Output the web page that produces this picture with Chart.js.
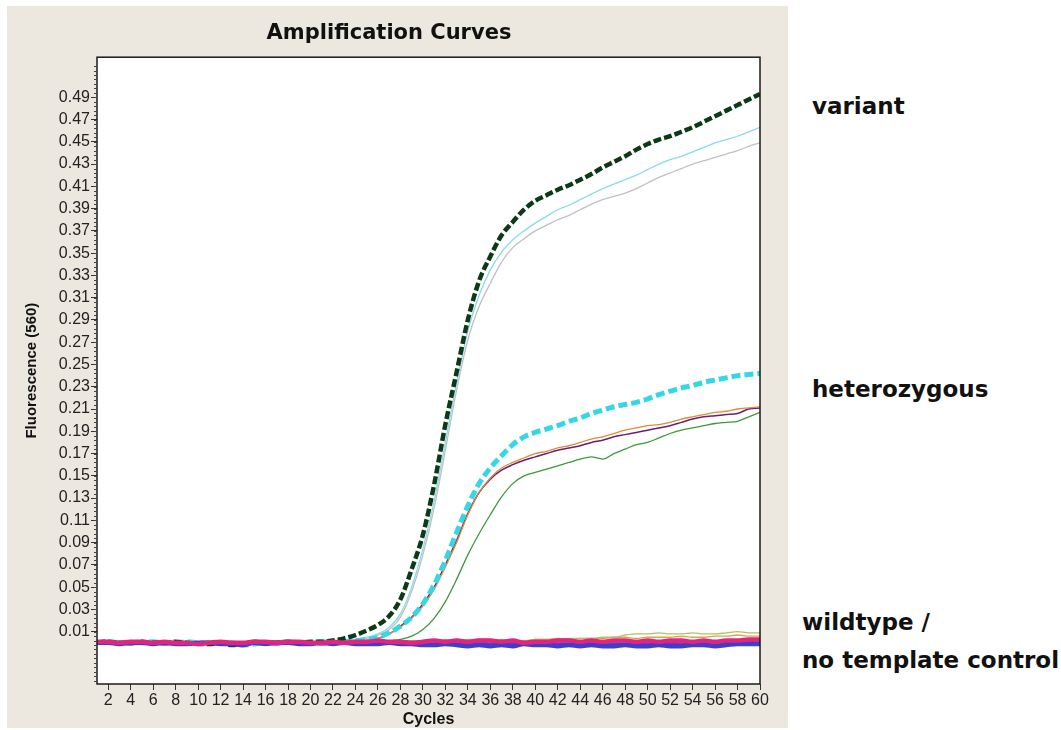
<!DOCTYPE html>
<html lang="en">
<head>
    <meta charset="UTF-8">
    <title>Amplification Curves</title>
    <script src="https://cdn.jsdelivr.net/npm/chart.js"></script>
    <style>
        body { margin: 0; background: #fff; width: 1061px; height: 730px; position: relative; overflow: hidden; }
        #panel { position: absolute; left: 7px; top: 6px; width: 781px; height: 722px; background: #ece8df; }
        .lbl { position: absolute; font-family: "DejaVu Sans", sans-serif; font-weight: bold; font-size: 23px; line-height: 28px; color: #111; white-space: nowrap; }
    </style>
</head>
<body>
    <div id="panel"><canvas id="ampChart" width="781" height="722"></canvas></div>
    <div class="lbl" style="left:812px; top:92px;">variant</div>
    <div class="lbl" style="left:812px; top:375px;">heterozygous</div>
    <div class="lbl" style="left:802px; top:608px;">wildtype /</div>
    <div class="lbl" style="left:802px; top:646px;">no template control</div>

    <script>
        // cycle numbers
        const cycles = [1, 2, 3, 4, 5, 6, 7, 8, 9, 10, 11, 12, 13, 14, 15, 16, 17, 18, 19, 20,
            21, 22, 23, 24, 25, 26, 27, 28, 29, 30, 31, 32, 33, 34, 35, 36, 37, 38, 39, 40,
            41, 42, 43, 44, 45, 46, 47, 48, 49, 50, 51, 52, 53, 54, 55, 56, 57, 58, 59, 60];

        const xTickValues = [2, 4, 6, 8, 10, 12, 14, 16, 18, 20, 22, 24, 26, 28, 30,
            32, 34, 36, 38, 40, 42, 44, 46, 48, 50, 52, 54, 56, 58, 60];
        const yTickValues = [0.01, 0.03, 0.05, 0.07, 0.09, 0.11, 0.13, 0.15, 0.17, 0.19, 0.21, 0.23,
            0.25, 0.27, 0.29, 0.31, 0.33, 0.35, 0.37, 0.39, 0.41, 0.43, 0.45, 0.47, 0.49];

        // variant samples
        const variantDark = [
            0.000, 0.001, 0.000, 0.000, 0.001, 0.000, 0.000, 0.001, 0.000, -0.001,
            -0.001, 0.000, -0.002, -0.001, 0.001, 0.000, 0.000, 0.001, 0.000, 0.001,
            0.001, 0.002, 0.004, 0.007, 0.011, 0.016, 0.024, 0.039, 0.066, 0.097,
            0.142, 0.196, 0.243, 0.290, 0.325, 0.347, 0.366, 0.378, 0.389, 0.397,
            0.402, 0.407, 0.411, 0.416, 0.421, 0.427, 0.432, 0.437, 0.443, 0.448,
            0.452, 0.455, 0.459, 0.463, 0.468, 0.473, 0.478, 0.483, 0.488, 0.493];
        const variantCyan = [
            0.000, 0.000, 0.001, 0.000, 0.000, 0.001, 0.000, 0.000, 0.000, 0.001,
            0.000, 0.000, 0.001, -0.001, 0.000, 0.000, 0.001, 0.000, 0.001, 0.000,
            0.001, 0.001, 0.002, 0.003, 0.005, 0.008, 0.014, 0.026, 0.050, 0.084,
            0.127, 0.180, 0.233, 0.280, 0.312, 0.335, 0.351, 0.362, 0.370, 0.377,
            0.383, 0.389, 0.393, 0.398, 0.403, 0.408, 0.412, 0.416, 0.420, 0.425,
            0.430, 0.434, 0.437, 0.441, 0.445, 0.449, 0.452, 0.455, 0.459, 0.463];
        const variantGray = [
            0.001, 0.000, 0.000, 0.001, 0.000, 0.000, 0.000, 0.001, 0.000, 0.000,
            0.001, 0.000, 0.000, 0.000, 0.001, 0.000, 0.000, 0.001, 0.000, 0.000,
            0.001, 0.001, 0.002, 0.003, 0.004, 0.007, 0.012, 0.023, 0.046, 0.079,
            0.121, 0.173, 0.227, 0.272, 0.302, 0.323, 0.342, 0.355, 0.363, 0.370,
            0.375, 0.380, 0.384, 0.389, 0.394, 0.398, 0.401, 0.404, 0.408, 0.413,
            0.418, 0.422, 0.426, 0.430, 0.433, 0.436, 0.439, 0.442, 0.446, 0.449];

        // heterozygous samples
        const hetCyan = [
            0.000, 0.001, 0.000, 0.000, 0.000, 0.001, 0.000, 0.000, 0.001, 0.000,
            0.000, 0.000, 0.000, -0.002, -0.001, 0.000, 0.000, 0.001, 0.000, 0.000,
            0.001, 0.000, 0.001, 0.002, 0.003, 0.005, 0.009, 0.015, 0.023, 0.035,
            0.052, 0.074, 0.099, 0.123, 0.143, 0.157, 0.168, 0.178, 0.185, 0.189,
            0.192, 0.195, 0.199, 0.202, 0.206, 0.209, 0.212, 0.214, 0.216, 0.219,
            0.223, 0.226, 0.229, 0.231, 0.234, 0.236, 0.238, 0.240, 0.241, 0.242];
        const hetOrange = [
            0.001, 0.000, 0.000, 0.000, 0.001, 0.000, 0.000, 0.000, 0.001, 0.000,
            0.000, 0.000, 0.001, 0.000, 0.000, 0.000, 0.001, 0.002, 0.001, 0.000,
            0.000, 0.001, 0.001, 0.001, 0.002, 0.004, 0.008, 0.014, 0.022, 0.033,
            0.048, 0.068, 0.090, 0.115, 0.135, 0.148, 0.157, 0.162, 0.166, 0.170,
            0.172, 0.175, 0.177, 0.180, 0.183, 0.185, 0.188, 0.191, 0.193, 0.195,
            0.196, 0.198, 0.201, 0.203, 0.205, 0.207, 0.208, 0.210, 0.211, 0.212];
        const hetPurple = [
            0.000, 0.000, 0.000, 0.001, 0.000, 0.000, 0.001, 0.000, 0.000, 0.000,
            0.000, 0.001, 0.000, 0.000, 0.000, 0.001, 0.000, 0.000, 0.001, 0.000,
            0.000, 0.001, 0.001, 0.001, 0.002, 0.004, 0.008, 0.015, 0.023, 0.035,
            0.050, 0.070, 0.092, 0.116, 0.135, 0.147, 0.155, 0.160, 0.164, 0.167,
            0.170, 0.173, 0.175, 0.177, 0.180, 0.182, 0.185, 0.187, 0.189, 0.191,
            0.193, 0.195, 0.198, 0.201, 0.203, 0.204, 0.205, 0.206, 0.210, 0.211];
        const hetGreen = [
            0.000, 0.000, 0.001, 0.000, 0.000, 0.000, 0.001, 0.000, 0.000, 0.000,
            0.001, 0.000, 0.000, 0.000, 0.000, 0.001, 0.000, 0.000, 0.000, 0.001,
            0.000, 0.000, 0.001, 0.000, 0.001, 0.001, 0.002, 0.003, 0.006, 0.012,
            0.022, 0.037, 0.057, 0.079, 0.098, 0.115, 0.131, 0.143, 0.150, 0.153,
            0.156, 0.159, 0.162, 0.165, 0.167, 0.165, 0.170, 0.174, 0.178, 0.180,
            0.184, 0.188, 0.191, 0.193, 0.195, 0.197, 0.198, 0.199, 0.203, 0.207];

        // wildtype / no template control
        const wtMagenta = [
            0.001, 0.001, 0.000, 0.001, 0.001, 0.000, 0.001, 0.000, 0.000, -0.001,
            0.000, 0.001, 0.000, 0.000, 0.001, 0.001, 0.000, 0.001, 0.001, 0.000,
            0.000, 0.001, 0.000, 0.001, 0.001, 0.002, 0.001, 0.001, 0.000, 0.001,
            0.002, 0.001, 0.002, 0.001, 0.002, 0.002, 0.001, 0.002, 0.000, 0.001,
            0.001, 0.002, 0.002, 0.001, 0.002, 0.001, 0.002, 0.002, 0.001, 0.002,
            0.001, 0.002, 0.002, 0.001, 0.002, 0.001, 0.002, 0.002, 0.003, 0.003];
        const wtBlue = [
            0.000, 0.000, -0.001, 0.000, 0.000, -0.001, 0.000, -0.001, -0.001, 0.000,
            0.000, -0.001, -0.001, -0.002, 0.000, -0.001, 0.000, 0.000, -0.001, -0.001,
            0.000, -0.001, 0.000, -0.001, -0.001, -0.001, 0.000, -0.001, -0.001, -0.002,
            -0.002, -0.001, -0.002, -0.003, -0.002, -0.003, -0.002, -0.003, -0.001, -0.002,
            -0.002, -0.003, -0.002, -0.003, -0.002, -0.003, -0.003, -0.002, -0.003, -0.003,
            -0.002, -0.003, -0.003, -0.002, -0.002, -0.003, -0.002, -0.001, -0.001, -0.001];
        const wtPurple = [
            0.000, 0.000, 0.000, -0.001, 0.000, 0.000, -0.001, 0.000, 0.000, -0.001,
            0.000, 0.000, -0.001, 0.000, 0.000, 0.000, -0.001, 0.000, 0.000, 0.000,
            -0.001, 0.000, 0.000, -0.001, 0.000, 0.000, 0.000, -0.001, 0.000, -0.001,
            -0.001, 0.000, -0.001, -0.001, 0.000, -0.001, -0.001, 0.000, -0.001, -0.001,
            0.000, -0.001, -0.001, 0.000, -0.001, 0.000, -0.001, -0.001, 0.000, -0.001,
            0.000, 0.000, -0.001, 0.000, 0.000, 0.001, 0.000, 0.001, 0.001, 0.001];
        const ntcGreen = [
            0.000, 0.001, 0.000, 0.000, 0.000, 0.001, 0.000, 0.000, 0.000, 0.001,
            0.000, 0.000, 0.001, 0.000, 0.000, 0.001, 0.001, 0.002, 0.001, 0.001,
            0.001, 0.001, 0.002, 0.001, 0.002, 0.002, 0.001, 0.002, 0.002, 0.002,
            0.002, 0.003, 0.002, 0.003, 0.003, 0.002, 0.003, 0.002, 0.001, 0.003,
            0.003, 0.003, 0.004, 0.004, 0.004, 0.005, 0.005, 0.007, 0.008, 0.008,
            0.009, 0.008, 0.008, 0.009, 0.008, 0.008, 0.009, 0.010, 0.009, 0.009];
        const ntcOrange = [
            0.001, 0.000, 0.000, 0.001, 0.000, 0.000, 0.000, 0.001, 0.000, 0.000,
            0.000, 0.001, 0.000, 0.000, 0.001, 0.000, 0.001, 0.002, 0.002, 0.001,
            0.001, 0.001, 0.001, 0.002, 0.001, 0.001, 0.002, 0.001, 0.001, 0.002,
            0.002, 0.002, 0.003, 0.002, 0.003, 0.003, 0.002, 0.002, 0.002, 0.003,
            0.003, 0.004, 0.003, 0.004, 0.004, 0.004, 0.005, 0.005, 0.004, 0.005,
            0.005, 0.005, 0.006, 0.005, 0.005, 0.006, 0.006, 0.007, 0.006, 0.006];

        // first entry is drawn on top
        const series = [
            { data: wtMagenta, color: '#e3247e', width: 4.5 },
            { data: wtBlue, color: '#3f3dcc', width: 4.5 },
            { data: wtPurple, color: '#7a3aa8', width: 3.5 },
            { data: variantDark, color: '#0c3a17', width: 4.5, dash: [8, 3] },
            { data: hetCyan, color: '#35d6e6', width: 5, dash: [9, 4] },
            { data: variantCyan, color: '#86dde6', width: 1.3 },
            { data: variantGray, color: '#c6bcc6', width: 1.3 },
            { data: hetOrange, color: '#e08a3c', width: 1.3 },
            { data: hetPurple, color: '#6a2070', width: 1.5 },
            { data: hetGreen, color: '#3c9a3c', width: 1.3 },
            { data: ntcGreen, color: '#b4c060', width: 1.3 },
            { data: ntcOrange, color: '#e0a050', width: 1.3 }
        ];

        // small decoration ticks on the y axis
        const yMinorTicks = [];
        for (let v = -0.034; v < 0.52; v += 0.004) yMinorTicks.push(v);

        const plotFrame = {
            id: 'plotFrame',
            beforeDatasetsDraw(chart) {
                const { ctx, chartArea: a } = chart;
                ctx.save();
                ctx.fillStyle = '#ffffff';
                ctx.fillRect(a.left, a.top, a.right - a.left, a.bottom - a.top);
                ctx.restore();
            },
            afterDraw(chart) {
                const { ctx, chartArea: a } = chart;
                const ys = chart.scales.y;
                ctx.save();
                ctx.strokeStyle = '#1a1a1a';
                ctx.lineWidth = 1.5;
                ctx.strokeRect(a.left, a.top, a.right - a.left, a.bottom - a.top);
                ctx.lineWidth = 1;
                ctx.strokeStyle = '#444';
                ctx.beginPath();
                yMinorTicks.forEach(v => {
                    const py = Math.round(ys.getPixelForValue(v)) + 0.5;
                    ctx.moveTo(a.left - 3, py);
                    ctx.lineTo(a.left, py);
                });
                ctx.stroke();
                ctx.restore();
            }
        };

        new Chart(document.getElementById('ampChart'), {
            type: 'line',
            data: {
                labels: cycles,
                datasets: series.map(s => ({
                    data: s.data,
                    borderColor: s.color,
                    borderWidth: s.width,
                    borderDash: s.dash || [],
                    pointRadius: 0,
                    fill: false,
                    cubicInterpolationMode: 'monotone'
                }))
            },
            options: {
                responsive: false,
                devicePixelRatio: 1,
                animation: false,
                layout: { padding: { left: 11, right: 28, top: 0, bottom: 0 } },
                plugins: {
                    legend: { display: false },
                    tooltip: { enabled: false },
                    title: {
                        display: true,
                        text: 'Amplification Curves',
                        color: '#111',
                        font: { family: 'DejaVu Sans', size: 21, weight: 'bold' },
                        padding: { top: 15, bottom: 11 }
                    }
                },
                scales: {
                    x: {
                        type: 'linear',
                        min: 1,
                        max: 60,
                        afterBuildTicks: sc => { sc.ticks = xTickValues.map(v => ({ value: v })); },
                        afterFit: sc => { sc.height = 44; },
                        border: { display: false },
                        grid: { drawOnChartArea: false, drawTicks: true, tickLength: 6, color: '#333' },
                        ticks: {
                            autoSkip: false, maxRotation: 0, padding: 1, color: '#222',
                            font: { family: 'Liberation Sans', size: 16 }
                        },
                        title: {
                            display: true, text: 'Cycles', color: '#111',
                            font: { family: 'Liberation Sans', size: 16, weight: 'bold', lineHeight: 1 },
                            padding: { top: 0, bottom: 0 }
                        }
                    },
                    y: {
                        min: -0.037,
                        max: 0.526,
                        afterBuildTicks: sc => { sc.ticks = yTickValues.map(v => ({ value: v })); },
                        afterFit: sc => { sc.width = 79; },
                        border: { display: false },
                        grid: { drawOnChartArea: false, drawTicks: true, tickLength: 6, color: '#333' },
                        ticks: {
                            padding: 1, color: '#222',
                            font: { family: 'Liberation Sans', size: 16 },
                            callback: v => v.toFixed(2)
                        },
                        title: {
                            display: true, text: 'Fluorescence (560)', color: '#111',
                            font: { family: 'Liberation Sans', size: 15, weight: 'bold' },
                            padding: { top: 5, bottom: 0 }
                        }
                    }
                }
            },
            plugins: [plotFrame]
        });
    </script>
</body>
</html>
